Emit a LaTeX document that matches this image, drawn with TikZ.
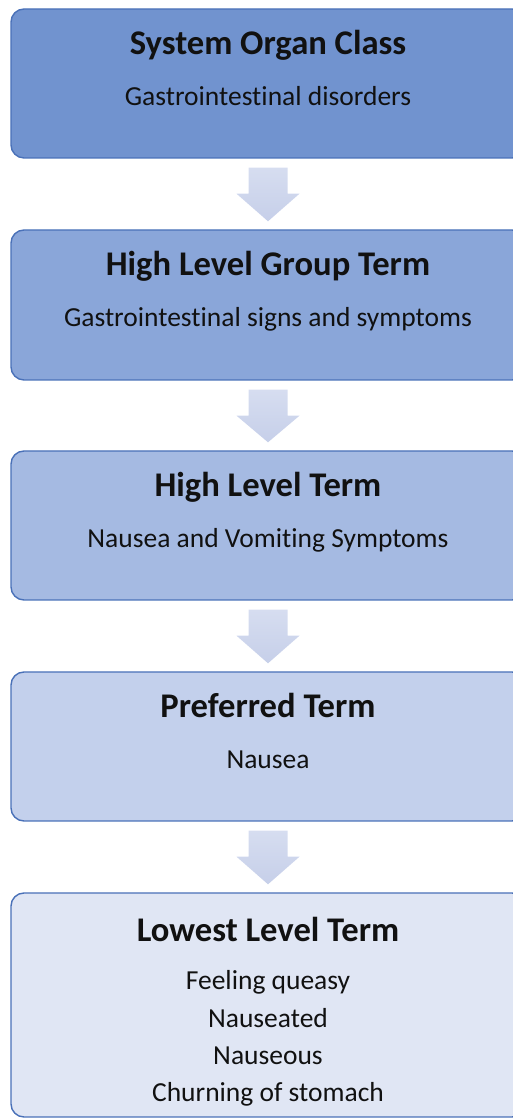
\documentclass[tikz,border=0pt]{standalone}
\usepackage{fontspec}
\setmainfont{Carlito}[Ligatures={NoCommon}]
\usetikzlibrary{calc}
\definecolor{c1}{HTML}{7193CF}
\definecolor{c2}{HTML}{8AA6D9}
\definecolor{c3}{HTML}{A5BAE2}
\definecolor{c4}{HTML}{C3D0EC}
\definecolor{c5}{HTML}{E0E6F4}
\definecolor{edge}{HTML}{4A71B8}
\definecolor{arrtop}{HTML}{D6DDF0}
\definecolor{arrbot}{HTML}{C6CFE9}
\definecolor{txt}{HTML}{111111}
\tikzset{
  box/.style={draw=edge, line width=1.4pt, rounded corners=13pt, minimum width=514pt, inner sep=0pt},
  ttl/.style={anchor=base, font=\fontsize{34.6}{40}\selectfont\bfseries, text=txt, inner sep=0pt},
  sub/.style={anchor=base, font=\fontsize{27.5}{32}\selectfont, text=txt, inner sep=0pt},
  arrowfill/.style={top color=arrtop, bottom color=arrbot, draw=none}
}
\newcommand\blockarrow[2]{%
  \shade[arrowfill] ($(#1.south)+(-19.5,-9)$) -- ($(#1.south)+(19.5,-9)$) -- ($(#1.south)+(19.5,-35)$) -- ($(#1.south)+(31.5,-35)$) -- ($(#2.north)+(0,8)$) -- ($(#1.south)+(-31.5,-35)$) -- ($(#1.south)+(-19.5,-35)$) -- cycle;}
\begin{document}
\begin{tikzpicture}[x=1pt,y=1pt]
\useasboundingbox (0,0) rectangle (513,1119);
\clip (0,0) rectangle (513,1119);
\node[box, fill=c1, minimum height=149pt] (b1) at (268,1035.5) {};
\node[box, fill=c2, minimum height=150pt] (b2) at (268,814) {};
\node[box, fill=c3, minimum height=149pt] (b3) at (268,593.5) {};
\node[box, fill=c4, minimum height=149pt] (b4) at (268,372.5) {};
\node[box, fill=c5, minimum height=224pt] (b5) at (268,114) {};
\node[ttl] (t1) at (268,1064) {System Organ Class};
\node[sub] (s1) at (268,1013) {Gastrointestinal disorders};
\node[ttl] (t2) at (268,843) {High Level Group Term};
\node[sub] (s2) at (268,792) {Gastrointestinal signs and symptoms};
\node[ttl] (t3) at (268,622) {High Level Term};
\node[sub] (s3) at (268,571) {Nausea and Vomiting Symptoms};
\node[ttl] (t4) at (268,401) {Preferred Term};
\node[sub] (s4) at (268,350) {Nausea};
\node[ttl] (t5) at (268,177) {Lowest Level Term};
\node[sub] (l1) at (268,129) {Feeling queasy};
\node[sub] (l2) at (268,91) {Nauseated};
\node[sub] (l3) at (268,54) {Nauseous};
\node[sub] (l4) at (268,17) {Churning of stomach};
\blockarrow{b1}{b2}
\blockarrow{b2}{b3}
\blockarrow{b3}{b4}
\blockarrow{b4}{b5}
\end{tikzpicture}
\end{document}
